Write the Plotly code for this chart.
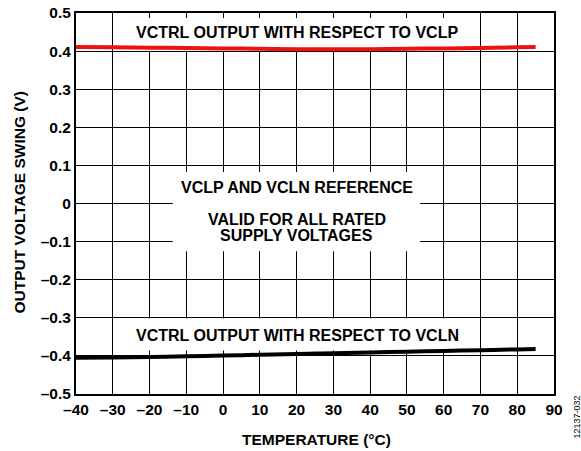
import plotly.graph_objects as go

# Data
temps = [-40, -30, -20, -10, 0, 10, 20, 25, 30, 40, 50, 60, 70, 80, 85]
vclp_out = [0.411, 0.410, 0.409, 0.408, 0.407, 0.406, 0.405, 0.405, 0.405, 0.405, 0.406, 0.407, 0.408, 0.410, 0.411]
vcln_out = [-0.405, -0.404, -0.403, -0.401, -0.399, -0.397, -0.395, -0.394, -0.393, -0.391, -0.389, -0.387, -0.385, -0.383, -0.382]

x_ticks = [-40, -30, -20, -10, 0, 10, 20, 30, 40, 50, 60, 70, 80, 90]
x_labels = ["–40", "–30", "–20", "–10", "0", "10", "20", "30", "40", "50", "60", "70", "80", "90"]
y_ticks = [0.5, 0.4, 0.3, 0.2, 0.1, 0, -0.1, -0.2, -0.3, -0.4, -0.5]
y_labels = ["0.5", "0.4", "0.3", "0.2", "0.1", "0", "–0.1", "–0.2", "–0.3", "–0.4", "–0.5"]

FONT = "Liberation Sans, Arial, sans-serif"
W, H = 581, 451
# plot area in page pixels: x 76..554, y 13..394
L, T = 76, 13
R, B = W - 554, H - 394
PW, PH = W - L - R, H - T - B

def px_x(p):
    return (p - L) / PW

def px_y(p):
    return (H - B - p) / PH

fig = go.Figure()
fig.add_trace(go.Scatter(x=temps, y=vclp_out, mode="lines",
                         line=dict(color="#ee1111", width=4, shape="spline"),
                         showlegend=False))
fig.add_trace(go.Scatter(x=temps, y=vcln_out, mode="lines",
                         line=dict(color="#000000", width=4, shape="spline"),
                         showlegend=False))

# white boxes covering the grid behind the labels
boxes = [(-29.4, 66, 0.401, 0.5), (-13.7, 53.6, -0.125, 0.083), (-29.4, 66, -0.302, -0.386)]
for x0, x1, y0, y1 in boxes:
    fig.add_shape(type="rect", x0=x0, x1=x1, y0=y0, y1=y1, xref="x", yref="y",
                  fillcolor="white", line=dict(width=0), layer="between")

ann_font = dict(family=FONT, size=16, color="black", weight="bold")
fig.add_annotation(x=20.1, y=0.449, text="VCTRL OUTPUT WITH RESPECT TO VCLP", showarrow=False, font=ann_font)
fig.add_annotation(x=20.1, y=0.042, text="VCLP AND VCLN REFERENCE", showarrow=False, font=ann_font)
fig.add_annotation(x=20.1, y=-0.041, text="VALID FOR ALL RATED", showarrow=False, font=ann_font)
fig.add_annotation(x=20.1, y=-0.0845, text="SUPPLY VOLTAGES", showarrow=False, font=ann_font)
fig.add_annotation(x=20.2, y=-0.347, text="VCTRL OUTPUT WITH RESPECT TO VCLN", showarrow=False, font=ann_font)

# axis titles
title_font = dict(family=FONT, size=15.5, color="black", weight="bold")
fig.add_annotation(xref="paper", yref="paper", x=px_x(316), y=px_y(439.5),
                   xanchor="center", yanchor="middle",
                   text="TEMPERATURE (°C)", showarrow=False, font=title_font)
fig.add_annotation(xref="paper", yref="paper", x=px_x(18.5), y=px_y(203),
                   xanchor="center", yanchor="middle",
                   text="OUTPUT VOLTAGE SWING (V)", showarrow=False, textangle=-90, font=title_font)
# figure id
fig.add_annotation(xref="paper", yref="paper", x=px_x(582), y=px_y(417.5),
                   xanchor="right", yanchor="middle", borderpad=0,
                   text="12137-032", showarrow=False, textangle=-90,
                   font=dict(family=FONT, size=9, color="black"))

tick_font = dict(family=FONT, size=15.5, color="black", weight="bold")
fig.update_xaxes(range=[-40, 90], tickvals=x_ticks, ticktext=x_labels,
                 showgrid=True, gridcolor="black", gridwidth=1,
                 showline=True, linecolor="black", linewidth=2, mirror="ticks",
                 ticks="inside", ticklen=5, tickcolor="black", tickwidth=1,
                 tickfont=tick_font, automargin=False, zeroline=False)
fig.update_yaxes(range=[-0.5, 0.5], tickvals=y_ticks, ticktext=y_labels,
                 showgrid=True, gridcolor="black", gridwidth=1,
                 showline=True, linecolor="black", linewidth=2, mirror="ticks",
                 ticks="inside", ticklen=5, tickcolor="black", tickwidth=1,
                 tickfont=tick_font, automargin=False, zeroline=False)

fig.update_layout(width=W, height=H, margin=dict(l=L, r=R, t=T, b=B),
                  plot_bgcolor="white", paper_bgcolor="white")

fig.write_html("out.html",
               config={"displayModeBar": False},
               post_script="document.body.style.margin='0';"
                           "document.documentElement.style.overflow='hidden';"
                           "document.body.style.overflow='hidden';")
